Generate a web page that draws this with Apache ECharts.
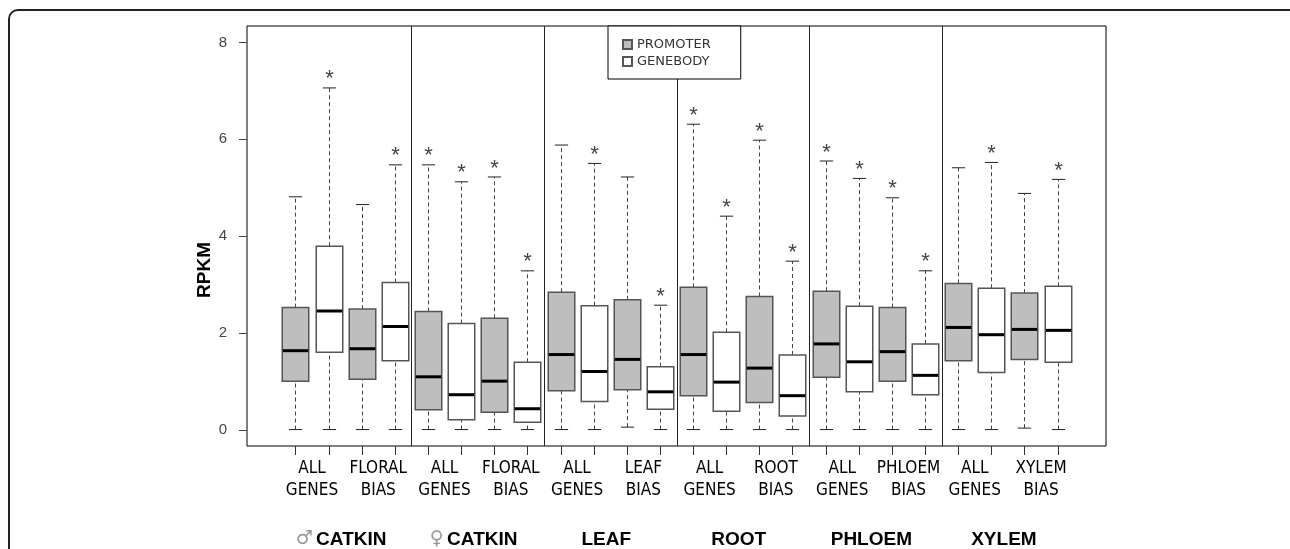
<!DOCTYPE html>
<html>
<head>
<meta charset="utf-8">
<script src="https://cdn.jsdelivr.net/npm/echarts@6/dist/echarts.min.js"></script>
<style>
html,body{margin:0;padding:0;background:#fff;}
#chart{width:1290px;height:549px;}
</style>
</head>
<body>
<div id="chart"></div>
<script>
// ---------- data ----------
const groupLabels = ['♂ CATKIN', '♀ CATKIN', 'LEAF', 'ROOT', 'PHLOEM', 'XYLEM'];
const pairLabels = ['ALL\nGENES', 'FLORAL\nBIAS', 'ALL\nGENES', 'FLORAL\nBIAS', 'ALL\nGENES', 'LEAF\nBIAS',
                    'ALL\nGENES', 'ROOT\nBIAS', 'ALL\nGENES', 'PHLOEM\nBIAS', 'ALL\nGENES', 'XYLEM\nBIAS'];
const yTicks = [0, 2, 4, 6, 8];
// [lower whisker, Q1, median, Q3, upper whisker] for each pair (promoter / genebody)
const promoterStats = [
  [0, 1.00, 1.63, 2.52, 4.81],
  [0, 1.04, 1.67, 2.49, 4.65],
  [0, 0.41, 1.09, 2.44, 5.47],
  [0, 0.36, 1.00, 2.30, 5.22],
  [0, 0.80, 1.55, 2.84, 5.88],
  [0.05, 0.82, 1.45, 2.68, 5.22],
  [0, 0.70, 1.55, 2.94, 6.31],
  [0, 0.56, 1.27, 2.75, 5.98],
  [0, 1.08, 1.77, 2.86, 5.55],
  [0, 1.00, 1.61, 2.52, 4.79],
  [0, 1.42, 2.11, 3.02, 5.41],
  [0.03, 1.45, 2.07, 2.82, 4.88]
];
const genebodyStats = [
  [0, 1.60, 2.45, 3.79, 7.06],
  [0, 1.42, 2.13, 3.04, 5.47],
  [0, 0.20, 0.72, 2.19, 5.12],
  [0, 0.15, 0.43, 1.39, 3.28],
  [0, 0.58, 1.20, 2.56, 5.50],
  [0, 0.42, 0.78, 1.30, 2.57],
  [0, 0.38, 0.98, 2.01, 4.41],
  [0, 0.28, 0.70, 1.54, 3.48],
  [0, 0.78, 1.40, 2.55, 5.19],
  [0, 0.72, 1.12, 1.77, 3.28],
  [0, 1.18, 1.96, 2.92, 5.52],
  [0, 1.39, 2.05, 2.96, 5.17]
];
// significance marks (*) for each pair
const promoterSig = [0, 0, 1, 1, 0, 0, 1, 1, 1, 1, 0, 0];
const genebodySig = [1, 1, 1, 1, 1, 1, 1, 1, 1, 1, 1, 1];
const separators = [4.5, 8.5, 12.5, 16.5, 20.5];

// ---------- build ----------
const X_MIN = -0.46, X_MAX = 25.46, Y_MIN = -0.34, Y_MAX = 8.34;
const GRID = { left: 247, right: 184, top: 26, bottom: 103 };
const W = 1290, H = 549;
const boxPositions = [];
for (let i = 1; i <= 24; i++) boxPositions.push(i);
const pairCenters = pairLabels.map((_, k) => 2 * k + 1.5);
const groupCenters = groupLabels.map((_, g) => 4 * g + 2.5);

const promoterData = promoterStats.map((s, k) => [2 * k + 1].concat(s, [promoterSig[k]]));
const genebodyData = genebodyStats.map((s, k) => [2 * k + 2].concat(s, [genebodySig[k]]));

function makeRender(fill) {
  return function (params, api) {
    const x = api.value(0);
    const lo = api.coord([x, api.value(1)]);
    const q1 = api.coord([x, api.value(2)]);
    const md = api.coord([x, api.value(3)]);
    const q3 = api.coord([x, api.value(4)]);
    const hi = api.coord([x, api.value(5)]);
    const bw = api.size([0.8, 0])[0];
    const cw = api.size([0.4, 0])[0];
    const cx = Math.round(lo[0]) + 0.5;
    const dash = { stroke: '#444', lineWidth: 1, lineDash: [4, 3] };
    const children = [
      { type: 'line', shape: { x1: cx, y1: lo[1], x2: cx, y2: q1[1] }, style: dash },
      { type: 'line', shape: { x1: cx, y1: q3[1], x2: cx, y2: hi[1] }, style: dash },
      { type: 'line', shape: { x1: cx - cw / 2, y1: lo[1], x2: cx + cw / 2, y2: lo[1] }, style: { stroke: '#222', lineWidth: 1 } },
      { type: 'line', shape: { x1: cx - cw / 2, y1: hi[1], x2: cx + cw / 2, y2: hi[1] }, style: { stroke: '#222', lineWidth: 1 } },
      { type: 'rect', shape: { x: cx - bw / 2, y: q3[1], width: bw, height: q1[1] - q3[1] },
        style: { fill: fill, stroke: '#555', lineWidth: 1.5 } },
      { type: 'line', shape: { x1: cx - bw / 2 + 0.5, y1: md[1], x2: cx + bw / 2 - 0.5, y2: md[1] }, style: { stroke: '#000', lineWidth: 3 } }
    ];
    if (api.value(6)) {
      children.push({ type: 'text', x: cx, y: hi[1] - 8.5,
        style: { text: '*', fontSize: 22, fontFamily: 'Liberation Sans, Arial, sans-serif', fill: '#444',
                 align: 'center', verticalAlign: 'middle' } });
    }
    return { type: 'group', children: children };
  };
}

// tick marks (axis furniture) laid out on the same linear grid as the axes
const plotW = W - GRID.left - GRID.right;
const plotH = H - GRID.top - GRID.bottom;
const yBottom = H - GRID.bottom;
const xLeft = GRID.left;
function lx(v) { return GRID.left + (v - X_MIN) / (X_MAX - X_MIN) * plotW; }
function ly(v) { return yBottom - (v - Y_MIN) / (Y_MAX - Y_MIN) * plotH; }

const graphics = [
  { type: 'rect', z: 100, shape: { x: 9, y: 10, width: 1320, height: 620, r: 9 }, style: { fill: 'none', stroke: '#222', lineWidth: 2 }, silent: true },
  { type: 'text', z: 100, x: 205, y: 270, rotation: Math.PI / 2,
    style: { text: 'RPKM', fontSize: 19, fontWeight: 'bold', fill: '#000', fontFamily: 'Liberation Sans, Arial, sans-serif', align: 'center', verticalAlign: 'middle' } }
];
boxPositions.forEach(function (v) {
  const x = Math.round(lx(v)) + 0.5;
  graphics.push({ type: 'line', z: 100, silent: true,
    shape: { x1: x, y1: yBottom, x2: x, y2: yBottom + 9 }, style: { stroke: '#333', lineWidth: 1 } });
});
yTicks.forEach(function (v) {
  const y = Math.round(ly(v)) + 0.5;
  graphics.push({ type: 'line', z: 100, silent: true,
    shape: { x1: xLeft - 8, y1: y, x2: xLeft, y2: y }, style: { stroke: '#444', lineWidth: 1 } });
});

const chart = echarts.init(document.getElementById('chart'), null, { renderer: 'canvas' });
const option = {
  animation: false,
  backgroundColor: '#fff',
  grid: { left: GRID.left, right: GRID.right, top: GRID.top, bottom: GRID.bottom, show: true, borderColor: '#000', borderWidth: 1, backgroundColor: 'transparent' },
  legend: {
    data: ['PROMOTER', 'GENEBODY'],
    orient: 'vertical', left: 608, top: 26,
    icon: 'rect', itemWidth: 9, itemHeight: 9, itemGap: 4, itemTextGap: 18,
    padding: [12, 30, 11, 14],
    borderColor: '#000', borderWidth: 1, backgroundColor: '#fff',
    textStyle: { fontSize: 13, lineHeight: 13, color: '#333', fontFamily: 'DejaVu Sans, sans-serif' },
    selectedMode: false
  },
  graphic: { elements: graphics },
  xAxis: [
    {
      type: 'value', min: X_MIN, max: X_MAX, position: 'bottom',
      axisLine: { show: false, onZero: false }, splitLine: { show: false }, axisTick: { show: false },
      axisLabel: {
        customValues: pairCenters, margin: 12, fontSize: 17, lineHeight: 21.5, color: '#000',
        fontFamily: 'Liberation Sans Narrow, DejaVu Sans Condensed, Liberation Sans, sans-serif',
        formatter: function (v) { return pairLabels[Math.round((v - 1.5) / 2)] || ''; }
      }
    },
    {
      type: 'value', min: X_MIN, max: X_MAX, position: 'bottom',
      axisLine: { show: false, onZero: false }, splitLine: { show: false }, axisTick: { show: false },
      axisLabel: {
        customValues: groupCenters, margin: 84, padding: [0, 8, 0, 0],
        formatter: function (v) {
          const t = groupLabels[Math.round((v - 2.5) / 4)] || '';
          const m = t.match(/^([♂♀]) (.*)$/);
          if (m) return '{s|' + m[1] + '} {b|' + m[2] + '}';
          return '{b|' + t + '}';
        },
        rich: {
          s: { fontSize: 19, color: '#999', fontFamily: 'DejaVu Sans, sans-serif' },
          b: { fontSize: 19, fontWeight: 'bold', color: '#000', fontFamily: 'Liberation Sans, Arial, sans-serif' }
        }
      }
    }
  ],
  yAxis: {
    type: 'value', min: Y_MIN, max: Y_MAX,
    axisLine: { show: false, onZero: false }, splitLine: { show: false }, axisTick: { show: false },
    axisLabel: { customValues: yTicks, margin: 20, fontSize: 15, color: '#444', fontFamily: 'Liberation Sans, Arial, sans-serif' }
  },
  series: [
    {
      name: 'separators', type: 'custom', xAxisIndex: 0, silent: true,
      data: separators.map(v => [v]),
      encode: { x: 0 },
      renderItem: function (params, api) {
        const p = api.coord([api.value(0), 0]);
        const cs = params.coordSys;
        const x = Math.round(p[0]) + 0.5;
        return { type: 'line', shape: { x1: x, y1: cs.y, x2: x, y2: cs.y + cs.height }, style: { stroke: '#222', lineWidth: 1 } };
      }
    },
    {
      name: 'PROMOTER', type: 'custom', xAxisIndex: 0,
      itemStyle: { color: '#BEBEBE', borderColor: '#555', borderWidth: 1 },
      data: promoterData, encode: { x: 0, y: [1, 2, 3, 4, 5] },
      renderItem: makeRender('#BEBEBE')
    },
    {
      name: 'GENEBODY', type: 'custom', xAxisIndex: 0,
      itemStyle: { color: '#FFFFFF', borderColor: '#555', borderWidth: 1 },
      data: genebodyData, encode: { x: 0, y: [1, 2, 3, 4, 5] },
      renderItem: makeRender('#FFFFFF')
    }
  ]
};
chart.setOption(option);
</script>
</body>
</html>
